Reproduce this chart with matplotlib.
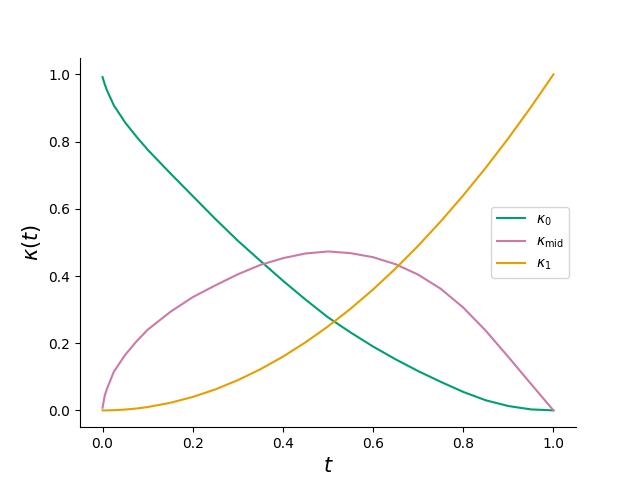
import matplotlib
matplotlib.use("Agg")
import matplotlib.pyplot as plt

t = [0.0, 0.005, 0.01, 0.025, 0.05, 0.075, 0.1, 0.15, 0.2, 0.25, 0.3, 0.35, 0.4,
     0.45, 0.5, 0.55, 0.6, 0.65, 0.7, 0.75, 0.8, 0.85, 0.9, 0.95, 1.0]
kappa0 = [0.992, 0.970, 0.952, 0.908, 0.857, 0.815, 0.776, 0.706, 0.638, 0.570,
          0.505, 0.445, 0.386, 0.330, 0.277, 0.232, 0.190, 0.152, 0.117, 0.085,
          0.055, 0.030, 0.013, 0.003, 0.0]
kappa_mid = [0.008, 0.045, 0.065, 0.115, 0.165, 0.205, 0.240, 0.293, 0.337, 0.372,
             0.405, 0.433, 0.453, 0.467, 0.473, 0.468, 0.456, 0.435, 0.404, 0.362,
             0.306, 0.237, 0.159, 0.079, 0.0]
kappa1 = [0.0, 0.0, 0.0001, 0.0006, 0.0025, 0.0056, 0.010, 0.0225, 0.040, 0.0625,
          0.090, 0.1225, 0.160, 0.2025, 0.250, 0.3025, 0.360, 0.4225, 0.490, 0.5625,
          0.640, 0.7225, 0.810, 0.9025, 1.0]

fig, ax = plt.subplots(figsize=(6.4, 4.8), dpi=100)
ax.plot(t, kappa0, color="#009E73", label=r"$\kappa_0$")
ax.plot(t, kappa_mid, color="#CC79A7", label=r"$\kappa_{\mathrm{mid}}$")
ax.plot(t, kappa1, color="#E69F00", label=r"$\kappa_1$")
ax.set_xlabel(r"$t$", fontsize=15)
ax.set_ylabel(r"$\kappa(t)$", fontsize=15)
ax.spines["top"].set_visible(False)
ax.spines["right"].set_visible(False)
ax.legend(loc="center right")
fig.savefig("out.png", dpi=100)
